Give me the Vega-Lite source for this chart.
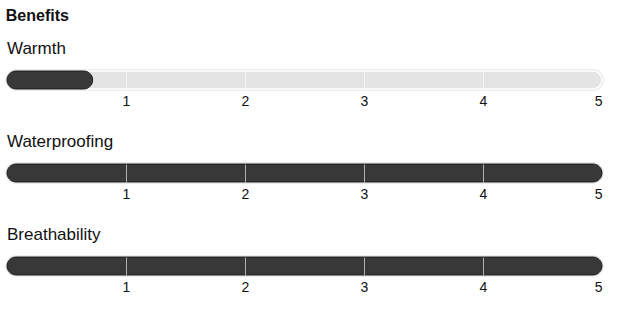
{
  "$schema": "https://vega.github.io/schema/vega-lite/v6.json",
  "data": {"values": [
    {"benefit": "Warmth", "score": 0.72, "order": 1},
    {"benefit": "Waterproofing", "score": 5, "order": 2},
    {"benefit": "Breathability", "score": 5, "order": 3}
  ]},
  "padding": {"left": 5, "top": 8, "right": 5, "bottom": 5},
  "title": {"text": "Benefits", "anchor": "start", "fontSize": 16, "fontWeight": "bold", "font": "Liberation Sans", "color": "#111111", "offset": 16, "dx": 0.5},
  "facet": {"field": "benefit", "sort": {"field": "order"}, "header": {"title": null, "labelAnchor": "start", "labelAlign": "left", "labelFontSize": 17, "labelFont": "Liberation Sans", "labelColor": "#111111", "labelPadding": 11, "labelOffset": -5}},
  "columns": 1,
  "spacing": 25,
  "spec": {
    "width": 595,
    "height": 18,
    "layer": [
      {"mark": {"type": "bar", "height": 18, "cornerRadius": 9, "fill": "white", "stroke": "#e6e6e6", "strokeWidth": 3.5},
       "encoding": {"x": {"datum": 5, "type": "quantitative", "scale": {"domain": [0, 5], "nice": false}}}},
      {"mark": {"type": "bar", "height": 18, "cornerRadius": 9, "fill": "#e4e4e4", "stroke": "white", "strokeWidth": 1.5},
       "encoding": {"x": {"datum": 5, "type": "quantitative"}}},
      {"mark": {"type": "bar", "height": 18, "cornerRadius": 9, "fill": "#383838", "stroke": "#222222", "strokeWidth": 1},
       "encoding": {"x": {"field": "score", "type": "quantitative", "scale": {"domain": [0, 5], "nice": false},
         "axis": {"title": null, "values": [1, 2, 3, 4, 5], "format": "d", "domain": false, "ticks": false, "grid": true, "gridColor": "white",
           "gridOpacity": {"condition": {"test": "datum.value === 5", "value": 0}, "value": 0.6}, "zindex": 1,
           "labelFontSize": 14, "labelFont": "Liberation Sans", "labelColor": "#111111", "labelPadding": 5}}}}
    ]
  },
  "resolve": {"axis": {"x": "independent"}},
  "config": {"view": {"stroke": null}}
}
